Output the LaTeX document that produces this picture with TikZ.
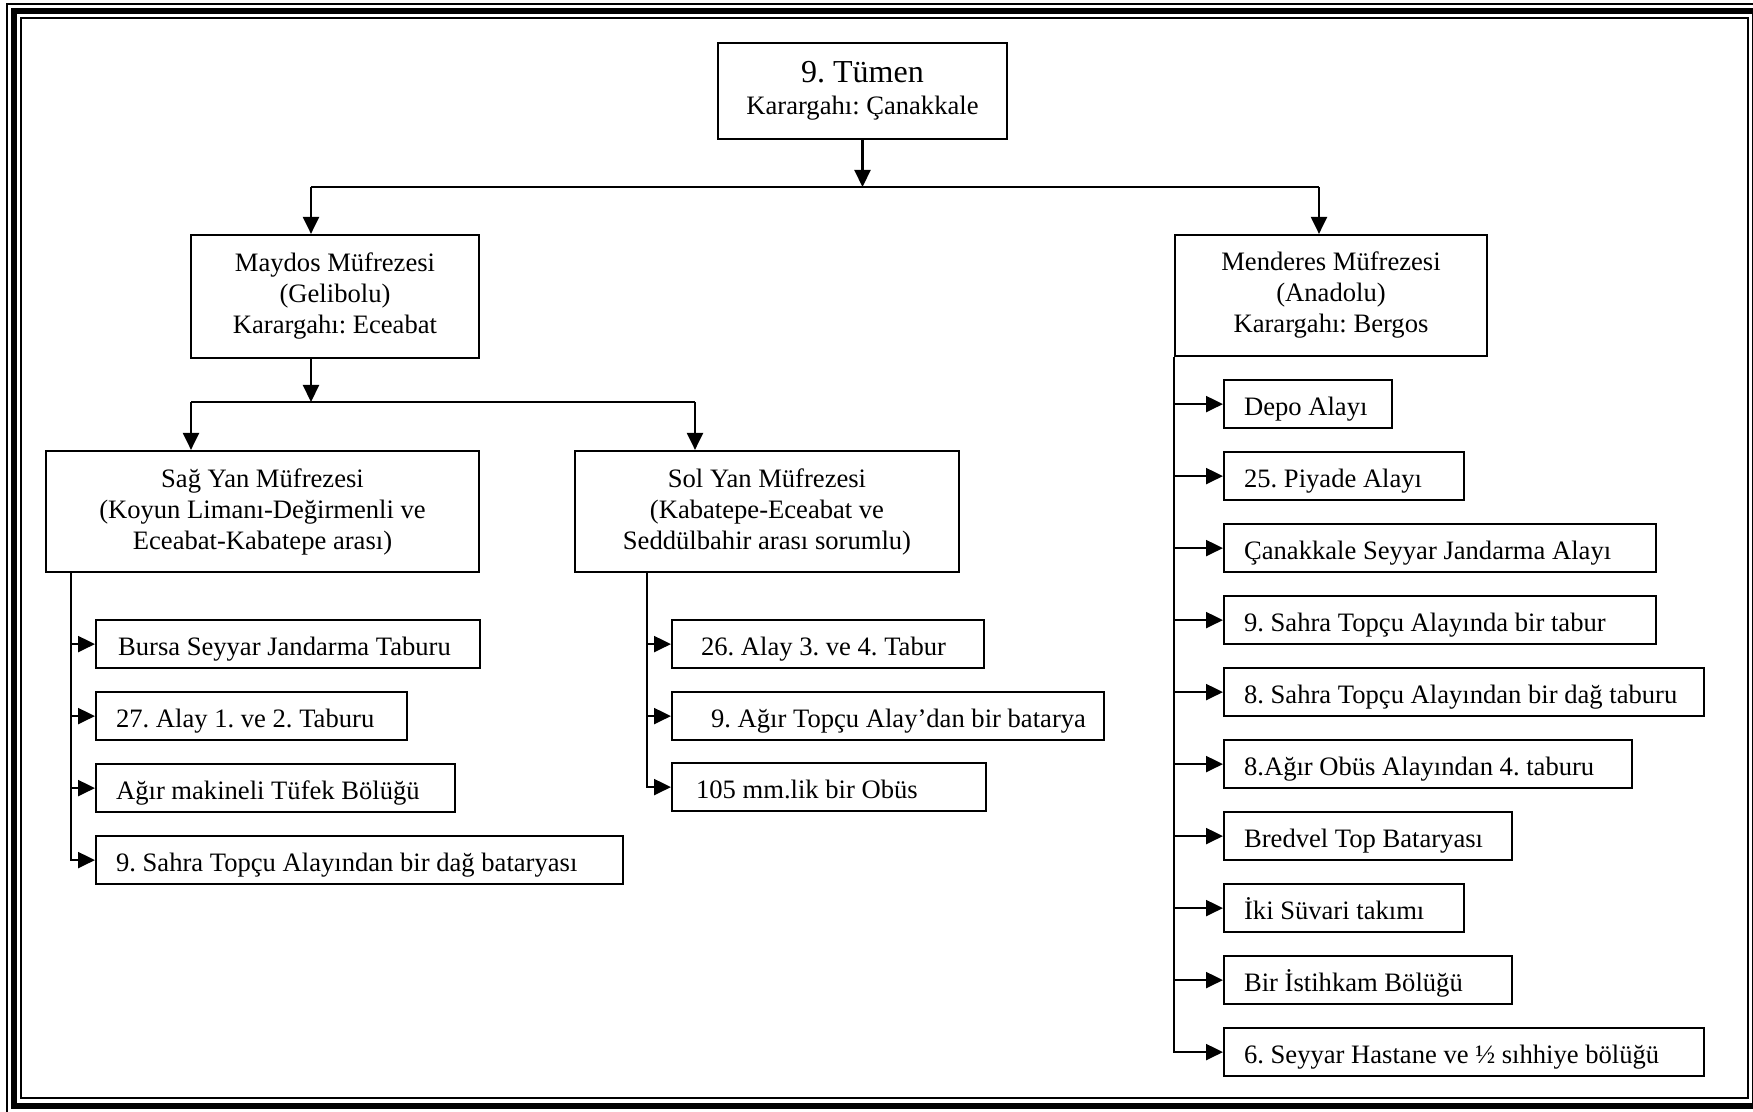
\documentclass[tikz,border=0pt]{standalone}
\usepackage{fontspec}
\setmainfont{Liberation Serif}
\usetikzlibrary{arrows.meta}
\tikzset{
  box/.style={draw, line width=1.1pt, inner sep=0pt, align=center},
  leaf/.style={draw, line width=1.1pt, anchor=north west, inner xsep=0pt, inner ysep=0pt,
               minimum height=24pt, text height=17.5pt, text depth=6.5pt},
  arr/.style={line width=1.1pt, -{Triangle[length=8.5pt,width=8pt]}},
  con/.style={line width=1.1pt},
  thinframe/.style={line width=0.8pt},
  thickframe/.style={line width=2.8pt}
}
\newcommand\leafnode[6]{\node[leaf] (#1) at (#2,#3) {\makebox[#4pt][l]{\hspace*{#5pt}#6}};}
\begin{document}
\frenchspacing
\begin{tikzpicture}[x=0.5pt,y=-0.5pt, font=\fontsize{13.3}{15.5}\selectfont]
\useasboundingbox (0,0) rectangle (1753,1112);
% frame
\draw[thinframe] (7,4) rectangle (1762,1114);
\draw[thickframe] (14,11) rectangle (1755,1106);
\draw[thinframe] (21,18) rectangle (1748,1098);

% main boxes
\node[box, minimum width=144.5pt, minimum height=48pt] (top) at (862.5,91)
  {{\fontsize{16}{16}\selectfont 9. Tümen}\\[0.5pt]Karargahı: Çanakkale};
\node[box, minimum width=144pt, minimum height=61.5pt] (maydos) at (335,296.5)
  {Maydos Müfrezesi\\(Gelibolu)\\Karargahı: Eceabat};
\node[box, minimum width=156pt, minimum height=60.5pt] (menderes) at (1331,295.5)
  {Menderes Müfrezesi\\(Anadolu)\\Karargahı: Bergos};
\node[box, minimum width=216.5pt, minimum height=60.5pt] (sag) at (262.5,511.5)
  {Sağ Yan Müfrezesi\\(Koyun Limanı-Değirmenli ve\\Eceabat-Kabatepe arası)};
\node[box, minimum width=192pt, minimum height=60.5pt] (sol) at (767,511.5)
  {Sol Yan Müfrezesi\\(Kabatepe-Eceabat ve\\Seddülbahir arası sorumlu)};

% Sag leaves
\leafnode{a1}{95}{619}{192}{11}{Bursa Seyyar Jandarma Taburu}
\leafnode{a2}{95}{691}{155.5}{10}{27. Alay 1. ve 2. Taburu}
\leafnode{a3}{95}{763}{179.5}{10}{Ağır makineli Tüfek Bölüğü}
\leafnode{a4}{95}{835}{263.5}{10}{9. Sahra Topçu Alayından bir dağ bataryası}

% Sol leaves
\leafnode{b1}{671}{619}{156}{14.5}{26. Alay 3. ve 4. Tabur}
\leafnode{b2}{671}{691}{216}{19.5}{9. Ağır Topçu Alay’dan bir batarya}
\leafnode{b3}{671}{762}{157}{12}{105 mm.lik bir Obüs}

% Menderes leaves
\leafnode{c1}{1223}{379}{84}{10}{Depo Alayı}
\leafnode{c2}{1223}{451}{120}{10}{25. Piyade Alayı}
\leafnode{c3}{1223}{523}{216}{10}{Çanakkale Seyyar Jandarma Alayı}
\leafnode{c4}{1223}{595}{216}{10}{9. Sahra Topçu Alayında bir tabur}
\leafnode{c5}{1223}{667}{240}{10}{8. Sahra Topçu Alayından bir dağ taburu}
\leafnode{c6}{1223}{739}{204}{10}{8.Ağır Obüs Alayından 4. taburu}
\leafnode{c7}{1223}{811}{144}{10}{Bredvel Top Bataryası}
\leafnode{c8}{1223}{883}{120}{10}{İki Süvari takımı}
\leafnode{c9}{1223}{955}{144}{10}{Bir İstihkam Bölüğü}
\leafnode{c10}{1223}{1027}{240}{10}{6. Seyyar Hastane ve ½ sıhhiye bölüğü}

% top level connectors
\coordinate (bar) at (862.5,187);
\coordinate (mayin) at (311,187);
\coordinate (menin) at (1319,187);
\draw[arr] (top.south) -- (bar);
\draw[con] (mayin) -- (menin);
\draw[arr] (mayin) -- (mayin |- maydos.north);
\draw[arr] (menin) -- (menin |- menderes.north);

% Maydos connectors
\coordinate (subbar) at (311,402);
\coordinate (sagin) at (191,402);
\coordinate (solin) at (695,402);
\draw[arr] (mayin |- maydos.south) -- (subbar);
\draw[con] (sagin) -- (solin);
\draw[arr] (sagin) -- (sagin |- sag.north);
\draw[arr] (solin) -- (solin |- sol.north);

% spines
\coordinate (sagsp) at (71,572);
\draw[arr] (sagsp) |- (a4.west);
\foreach \n in {a1,a2,a3} \draw[arr] (sagsp |- \n.west) -- (\n.west);

\coordinate (solsp) at (647,572);
\draw[arr] (solsp) |- (b3.west);
\foreach \n in {b1,b2} \draw[arr] (solsp |- \n.west) -- (\n.west);

\coordinate (mensp) at (menderes.south west);
\draw[arr] (mensp) |- (c10.west);
\foreach \n in {c1,c2,c3,c4,c5,c6,c7,c8,c9} \draw[arr] (mensp |- \n.west) -- (\n.west);
\end{tikzpicture}
\end{document}
